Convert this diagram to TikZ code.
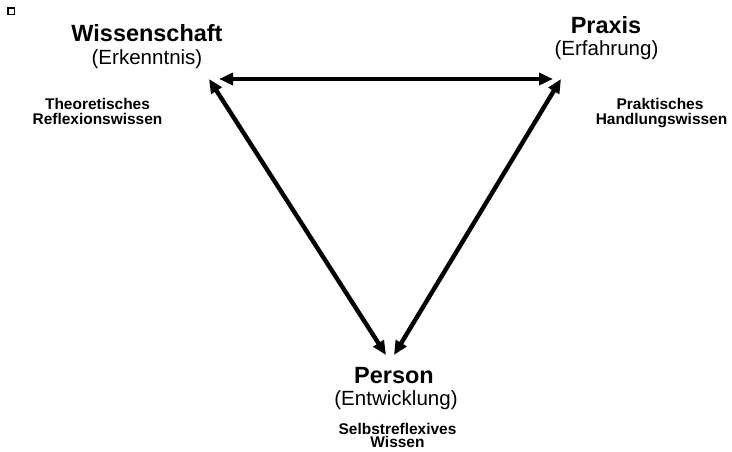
\documentclass[tikz,border=0pt]{standalone}
\usepackage{fontspec}
\setmainfont{Liberation Sans}
\usetikzlibrary{arrows.meta}
\begin{document}
\begin{tikzpicture}[x=0.75pt,y=-0.75pt,
  title/.style={font=\fontsize{17.6}{20}\selectfont\bfseries,inner sep=0pt,anchor=base},
  sub/.style={font=\fontsize{15.4}{18}\selectfont,inner sep=0pt,anchor=base},
  know/.style={font=\fontsize{11.6}{14}\selectfont\bfseries,inner sep=0pt,anchor=base},
  conn/.style={line width=3.3pt,{Triangle[length=10.5pt,width=9pt]}-{Triangle[length=10.5pt,width=9pt]}}]
\useasboundingbox (0,0) rectangle (732,452);
\node[draw,fill=white,line width=1pt,minimum size=4.8pt,inner sep=0pt] (sq) at (11.2,11.2) {};
\node[title] (w) at (147,42) {Wissenschaft};
\node[sub] (we) at (147,65) {(Erkenntnis)};
\node[know] (wk1) at (97.5,110) {Theoretisches};
\node[know] (wk2) at (97.5,125) {Reflexionswissen};
\node[title] (p) at (606,34) {Praxis};
\node[sub] (pe) at (606.5,56) {(Erfahrung)};
\node[know] (pk1) at (660,110) {Praktisches};
\node[know] (pk2) at (661.5,125) {Handlungswissen};
\node[title] (pr) at (394,383.5) {Person};
\node[sub] (pre) at (396,405) {(Entwicklung)};
\node[know] (prk1) at (397.5,434) {Selbstreflexives};
\node[know] (prk2) at (397.5,447.5) {Wissen};
\coordinate (a1) at (219,79);
\coordinate (a2) at (553,79);
\coordinate (b1) at (209,79);
\coordinate (b2) at (386,355);
\coordinate (c1) at (561,79);
\coordinate (c2) at (394,355);
\draw[conn] (a1) -- (a2);
\draw[conn] (b1) -- (b2);
\draw[conn] (c1) -- (c2);
\end{tikzpicture}
\end{document}
